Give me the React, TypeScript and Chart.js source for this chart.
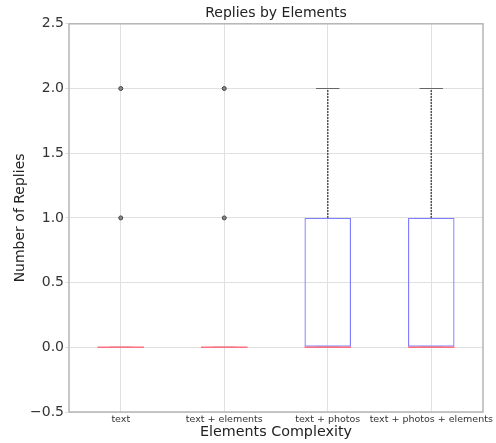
import React, { useEffect, useRef } from "react";
import { Chart, registerables } from "chart.js";

Chart.register(...registerables);

const categories = ["text", "text + elements", "text + photos", "text + photos + elements"];
const q1 = [0, 0, 0, 0];
const q3 = [0, 0, 1, 1];
const medians = [0, 0, 0, 0];
const whiskerLow = [0, 0, 0, 0];
const whiskerHigh = [0, 0, 2, 2];
const fliers: number[][] = [[1, 2], [1, 2], [], []];
const yTicks = [-0.5, 0, 0.5, 1, 1.5, 2, 2.5];

const FONT = "'DejaVu Sans', sans-serif";

const boxPlugin = {
  id: "boxExtras",
  afterDatasetsDraw(chart: any) {
    const ctx = chart.ctx;
    const xs = chart.scales.x;
    const ys = chart.scales.y;
    const meta = chart.getDatasetMeta(0);
    ctx.save();
    categories.forEach((c, i) => {
      const x = xs.getPixelForValue(i);
      const w = meta.data[i] ? meta.data[i].width : 46;
      // whiskers
      ctx.strokeStyle = "#555555";
      ctx.lineWidth = 1.5;
      ctx.setLineDash([2, 1]);
      ctx.beginPath();
      ctx.moveTo(x, ys.getPixelForValue(q3[i]));
      ctx.lineTo(x, ys.getPixelForValue(whiskerHigh[i]));
      ctx.moveTo(x, ys.getPixelForValue(q1[i]));
      ctx.lineTo(x, ys.getPixelForValue(whiskerLow[i]));
      ctx.stroke();
      ctx.setLineDash([]);
      // caps
      ctx.strokeStyle = "#666666";
      ctx.lineWidth = 1.2;
      ctx.beginPath();
      const cw = w / 4;
      [whiskerHigh[i], whiskerLow[i]].forEach((v) => {
        const y = ys.getPixelForValue(v);
        ctx.moveTo(x - cw, y);
        ctx.lineTo(x + cw, y);
      });
      ctx.stroke();
      // median
      ctx.strokeStyle = "#ff7080";
      ctx.lineWidth = 1.6;
      ctx.beginPath();
      const my = ys.getPixelForValue(medians[i]);
      ctx.moveTo(x - w / 2, my);
      ctx.lineTo(x + w / 2, my);
      ctx.stroke();
    });
    // frame
    const a = chart.chartArea;
    ctx.strokeStyle = "#b5b5b5";
    ctx.lineWidth = 1.5;
    ctx.strokeRect(a.left, a.top, a.right - a.left, a.bottom - a.top);
    ctx.restore();
  },
};

export default function App() {
  const ref = useRef<HTMLCanvasElement>(null);
  useEffect(() => {
    const flierData: { x: string; y: number }[] = [];
    fliers.forEach((arr, i) => arr.forEach((v) => flierData.push({ x: categories[i], y: v })));
    const chart = new Chart(ref.current as HTMLCanvasElement, {
      type: "bar",
      data: {
        labels: categories,
        datasets: [
          {
            type: "bar",
            data: categories.map((_, i) => [q1[i], q3[i]]),
            backgroundColor: "rgba(0,0,0,0)",
            borderColor: "#8080ff",
            borderWidth: 1.2,
            borderSkipped: false,
            barPercentage: 0.45,
            categoryPercentage: 1,
          } as any,
          {
            type: "line",
            data: flierData as any,
            showLine: false,
            pointRadius: 2,
            pointBorderColor: "#444444",
            pointBackgroundColor: "#888888",
            pointBorderWidth: 1,
          } as any,
        ],
      },
      options: {
        animation: false,
        responsive: false,
        devicePixelRatio: 1,
        layout: { padding: { left: 0, right: 13, top: 0, bottom: 0 } },
        plugins: {
          legend: { display: false },
          tooltip: { enabled: false },
          title: {
            display: true,
            text: "Replies by Elements",
            fullSize: false,
            color: "#222222",
            font: { family: FONT, size: 14, weight: "normal" },
            padding: { top: 5, bottom: 2 },
          },
        },
        scales: {
          x: {
            type: "category",
            offset: true,
            grid: { offset: false, color: "#e0e0e0", drawTicks: false, tickLength: 0 },
            border: { display: false },
            ticks: { color: "#333333", font: { family: FONT, size: 9.5 }, padding: 2, maxRotation: 0, autoSkip: false },
            title: {
              display: true,
              text: "Elements Complexity",
              color: "#222222",
              font: { family: FONT, size: 14.3 },
              padding: { top: 0, bottom: 2 },
            },
            afterFit(s: any) {
              s.height = 31;
              s.paddingLeft = 0;
              s.paddingRight = 0;
            },
          },
          y: {
            type: "linear",
            min: -0.5,
            max: 2.5,
            afterBuildTicks(s: any) {
              s.ticks = yTicks.map((v) => ({ value: v }));
            },
            grid: { color: "#e0e0e0", tickLength: 4 },
            border: { display: false },
            ticks: {
              color: "#333333",
              font: { family: FONT, size: 14 },
              padding: 1,
              callback: (v: any) => (Number(v) < 0 ? "\u2212" + Math.abs(Number(v)).toFixed(1) : Number(v).toFixed(1)),
            },
            title: {
              display: true,
              text: "Number of Replies",
              color: "#222222",
              font: { family: FONT, size: 14 },
              padding: { top: 12, bottom: 0 },
            },
            afterFit(s: any) {
              s.width = 69;
            },
          },
        },
      },
      plugins: [boxPlugin],
    });
    return () => chart.destroy();
  }, []);
  return (
    <div style={{ position: "absolute", left: 0, top: 0, width: 496, height: 443, background: "#fff" }}>
      <canvas ref={ref} width={496} height={443} />
    </div>
  );
}
